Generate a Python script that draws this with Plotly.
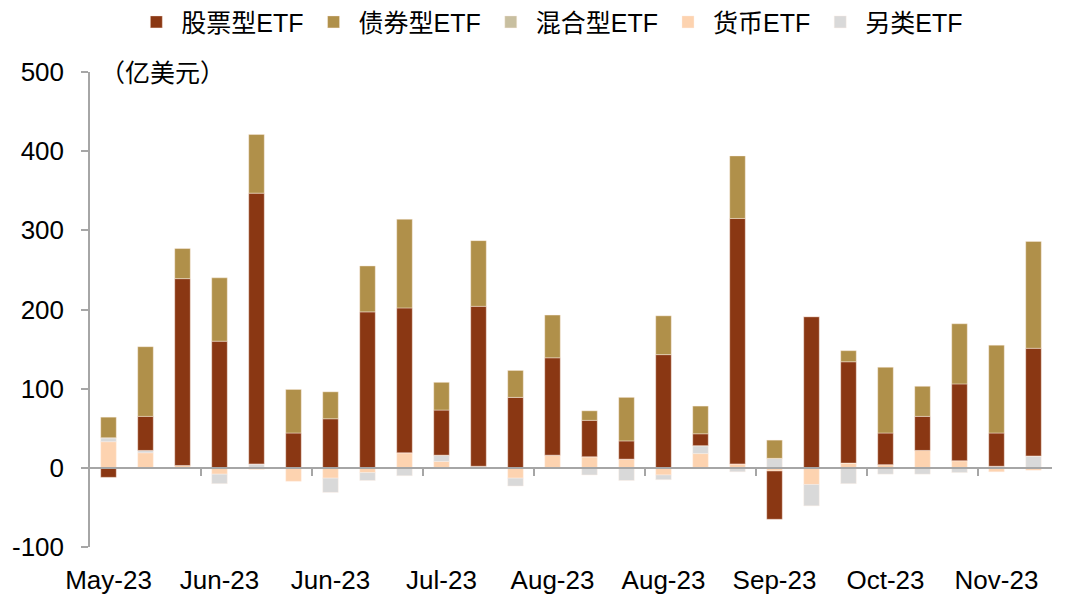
import plotly.graph_objects as go

# Weekly ETF net flows (100 million USD), 26 weeks
week_index = list(range(26))
tick_positions = [0, 3, 6, 9, 12, 15, 18, 21, 24]
tick_labels = ["May-23", "Jun-23", "Jun-23", "Jul-23", "Aug-23", "Aug-23", "Sep-23", "Oct-23", "Nov-23"]
group_boundaries = [2.5, 5.5, 8.5, 11.5, 14.5, 17.5, 20.5, 23.5]
y_ticks = [-100, 0, 100, 200, 300, 400, 500]
y_tick_labels = ["-100", "0", "100", "200", "300", "400", "500"]

stock = [-12, 43, 236, 160, 342, 44, 62, 197, 183, 57, 202, 89, 123, 46, 23, 143, 15, 310, -61, 191, 128, 40, 43, 97, 42, 136]
bond = [26, 88, 38, 80, 74, 55, 34, 58, 112, 35, 83, 34, 54, 12, 55, 49, 35, 79, 23, 0, 14, 83, 38, 76, 111, 135]
mixed = [0] * 26
money = [33, 19, 3, -8, -2, -17, -13, -6, 19, 8, 0, -13, 16, 14, 11, -9, 18, 5, -4, -21, 6, 4, 22, 9, -5, -3]
other = [5, 3, 0, -12, 5, 0, -18, -10, -10, 8, 2, -10, 0, -9, -16, -6, 10, -5, 12, -27, -20, -8, -8, -6, 2, 15]

FONT = "Liberation Sans, Arial, Noto Sans CJK SC, sans-serif"
edge = dict(width=0.6, color="rgba(255,240,230,0.7)")

fig = go.Figure()
# stacking order (bottom -> top): money, other, mixed, stock, bond
series = [
    ("货币ETF", money, "#FDD3B0", 4),
    ("另类ETF", other, "#D9D9D9", 5),
    ("混合型ETF", mixed, "#C8BFA0", 3),
    ("股票型ETF", stock, "#8A3713", 1),
    ("债券型ETF", bond, "#B0904A", 2),
]
for name, vals, color, rank in series:
    fig.add_trace(go.Bar(x=week_index, y=vals, name=name, legendrank=rank,
                         marker=dict(color=color, line=edge)))

# helper trace for the zero-line axis
fig.add_trace(go.Scatter(x=[None], y=[None], xaxis="x2", showlegend=False, hoverinfo="skip"))

fig.update_layout(
    width=1080, height=614,
    margin=dict(l=90, r=28, t=72, b=67, autoexpand=False),
    barmode="relative",
    bargap=0.58,
    plot_bgcolor="white", paper_bgcolor="white",
    font=dict(family=FONT, size=26, color="black"),
    legend=dict(orientation="h", x=0.478, xanchor="center", y=1.105, yanchor="middle",
                font=dict(size=25), traceorder="normal", itemwidth=40),
    xaxis=dict(range=[-0.5, 25.5], tickvals=tick_positions, ticktext=tick_labels,
               showline=False, showgrid=False, zeroline=False,
               ticks="outside", ticklen=10, tickcolor="rgba(0,0,0,0)",
               tickfont=dict(size=26)),
    xaxis2=dict(range=[-0.5, 25.5], overlaying="x", anchor="free", position=1/6,
                showline=True, linecolor="#A6A6A6", linewidth=1.5,
                tickvals=group_boundaries, ticks="outside", ticklen=7, tickwidth=1.5,
                tickcolor="#A6A6A6", showticklabels=False, showgrid=False, zeroline=False),
    yaxis=dict(range=[-100, 500], tickvals=y_ticks, ticktext=y_tick_labels,
               showgrid=False, zeroline=False,
               showline=True, linecolor="#A6A6A6", linewidth=1.5,
               ticks="outside", ticklen=7, tickwidth=1.5, tickcolor="#A6A6A6",
               ticklabelstandoff=12, tickfont=dict(size=26)),
    annotations=[dict(text="（亿美元）", xref="paper", yref="paper", x=0.008, y=0.998,
                      xanchor="left", yanchor="middle", showarrow=False,
                      font=dict(size=25))],
)

fig.write_html("out.html")
